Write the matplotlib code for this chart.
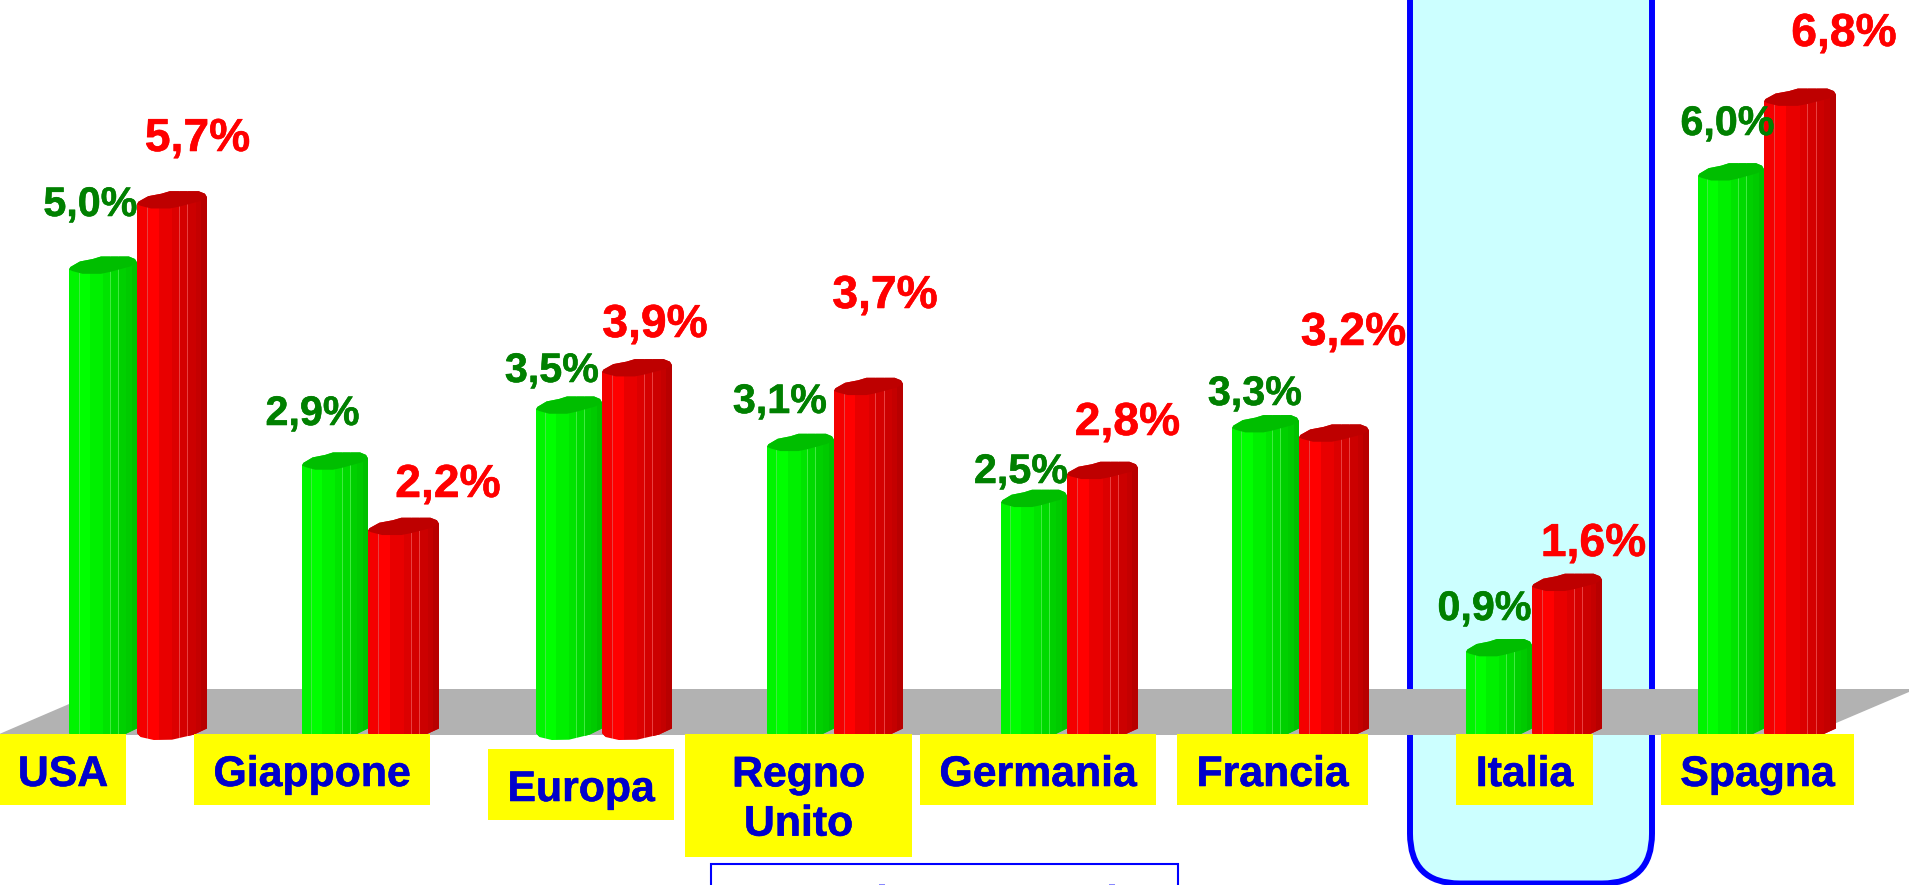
import matplotlib
matplotlib.use("Agg")
import numpy as np
import matplotlib.pyplot as plt
import matplotlib.patheffects as pe
from matplotlib.patches import Polygon, Rectangle, FancyBboxPatch
from matplotlib.transforms import Affine2D

# ---------- data ----------
categories = ["USA", "Giappone", "Europa", "Regno\nUnito", "Germania", "Francia", "Italia", "Spagna"]
green_values = [5.0, 2.9, 3.5, 3.1, 2.5, 3.3, 0.9, 6.0]
red_values = [5.7, 2.2, 3.9, 3.7, 2.8, 3.2, 1.6, 6.8]

# ---------- layout (pixels of the 1909x885 picture) ----------
W, H = 1909, 885
BASE_PX, PPU = 736.0, 93.3
green_x = [(69, 137), (302, 368), (536, 602), (767, 834), (1001, 1067), (1232, 1299), (1466, 1532), (1698, 1764)]
red_x = [(137, 207), (368, 439), (602, 672), (834, 903), (1067, 1138), (1299, 1369), (1532, 1602), (1764, 1836)]
boxes = [(0, 126, 734, 805), (194, 430, 734, 805), (488, 674, 749, 820), (685, 912, 734, 857),
         (920, 1156, 734, 805), (1177, 1368, 734, 805), (1456, 1593, 734, 805), (1661, 1854, 734, 805)]
cat_base = [786, 786, 801, 786, 786, 786, 786, 786]
green_lab = [(90.5, 216), (312.5, 425), (552, 382), (780, 413), (1021, 483), (1255, 405), (1484.5, 620), (1727.5, 135)]
red_lab = [(197.5, 151), (448, 497), (655, 337), (885, 308), (1127.5, 435), (1353.5, 345), (1593.5, 556), (1844, 46)]

RED = dict(cap="#BE0000", line="#E84040", base="#E00000",
           strips=["#F40000", "#FF0000", "#E80000", "#DC0000", "#D40000", "#CC0000", "#C40000", "#B80000"])
GREEN = dict(cap="#00BE00", line="#40EA40", base="#00E000",
             strips=["#00F400", "#00FF00", "#00F000", "#00E400", "#00DA00", "#00D000", "#00CA00", "#00C000"])
FR = [0, .14, .31, .50, .60, .72, .84, .92, 1]
LINES = {.14, .60, .72}

CAP = [(0, 0), (.02, -2.5), (.16, -8), (.35, -10.5), (.47, -13), (.88, -13), (.97, -10.5), (1, -7),
       (.9, -3), (.6, 2.5), (.47, 4.3), (.2, 4.3), (.05, 1.6)]
N_BACK = 8  # first points of CAP form the back edge
BOTTOM = [(0, -2), (.05, 2), (.24, 5), (.5, 4.7), (.81, -.3), (1, -6.5)]

plt.rcParams["font.family"] = ["Liberation Sans", "DejaVu Sans"]
fig = plt.figure(figsize=(W / 100, H / 100), dpi=100, facecolor="white")
ax = fig.add_axes([0, 0, 1, 1])
ax.axis("off")
px = Affine2D().scale(1 / W, -1 / H).translate(0, 1) + fig.transFigure


def hex2rgb(c):
    return [int(c[i:i + 2], 16) / 255 for i in (1, 3, 5)]


def heavy(col):
    return [pe.withStroke(linewidth=0.4, foreground=col)]


# panel behind the floor
ax.add_patch(FancyBboxPatch((1410, -100), 242, 983.5, boxstyle="round,pad=0,rounding_size=50",
                            fc="#CCFFFF", ec="#0000FF", lw=4.3, transform=px, zorder=1, clip_on=False))
# floor
ax.add_patch(Polygon([(-3, 735), (104, 689), (1916, 689), (1808, 735)], closed=True, fc="#B2B2B2", ec="none",
                     transform=px, zorder=2))
# box at the bottom
ax.add_patch(Rectangle((711, 864), 467, 60, fc="white", ec="#0000FF", lw=1.5, transform=px, zorder=2))
for mx in (882, 1112):
    ax.add_patch(Rectangle((mx - 3, 884), 6, 2, fc="#8888FF", ec="none", transform=px, zorder=2))


def cylinder(x0, x1, v, st, z):
    w = x1 - x0
    pts = [(x0 + w * f, (-(d) + BASE_PX - 735) / PPU) for f, d in BOTTOM]
    pts += [(x0 + w * f, v - d / PPU) for f, d in CAP[N_BACK - 1::-1]]
    sil = Polygon(pts, closed=True, transform=ax.transData)
    bar = ax.bar((x0 + x1) / 2, v, width=w, color=st["base"], linewidth=0, zorder=z)[0]
    bar.set_clip_path(sil)
    edges, cols = [], []
    for i in range(len(st["strips"])):
        a, b = x0 + w * FR[i], x0 + w * FR[i + 1]
        if FR[i] in LINES:
            edges.append(a)
            cols.append(hex2rgb(st["line"]))
            a += 1
        edges.append(a)
        cols.append(hex2rgb(st["strips"][i]))
    edges.append(x1)
    ytop = v + 15 / PPU
    ybot = -8 / PPU
    C = np.array([cols])
    m = ax.pcolormesh(edges, [ybot, ytop], C, shading="flat", zorder=z + .1, antialiased=False, linewidth=0)
    m.set_clip_path(sil)
    ax.add_patch(Polygon([(x0 + w * f, v - d / PPU) for f, d in CAP], closed=True, fc=st["cap"], ec="none",
                         zorder=z + .2))


z = 3.0
for i in range(len(categories)):
    cylinder(*green_x[i], green_values[i], GREEN, z)
    cylinder(*red_x[i], red_values[i], RED, z + 1)
    z += 2

for (x0, x1, y0, y1), name, by in zip(boxes, categories, cat_base):
    ax.add_patch(Rectangle((x0, y0), x1 - x0, y1 - y0, fc="#FFFF00", ec="none", transform=px, zorder=40))
    if "\n" in name:
        ax.text((x0 + x1) / 2, 800, name, ha="center", va="center", ma="center", linespacing=1.3,
                fontsize=30.8, fontweight="bold", color="#0000CC", transform=px, zorder=41,
                path_effects=heavy("#0000CC"))
    else:
        ax.text((x0 + x1) / 2, by, name, ha="center", va="baseline", fontsize=30.8, fontweight="bold",
                color="#0000CC", transform=px, zorder=41, path_effects=heavy("#0000CC"))

for v, (lx, ly) in zip(green_values, green_lab):
    ax.text(lx, ly, f"{v:.1f}%".replace(".", ","), ha="center", va="baseline", fontsize=29.7, fontweight="bold",
            color="#008000", transform=px, zorder=50, path_effects=heavy("#008000"))
for v, (lx, ly) in zip(red_values, red_lab):
    ax.text(lx, ly, f"{v:.1f}%".replace(".", ","), ha="center", va="baseline", fontsize=33.3, fontweight="bold",
            color="#FF0000", transform=px, zorder=50, path_effects=heavy("#FF0000"))

ax.set_xlim(0, W)
ax.set_ylim((BASE_PX - H) / PPU, BASE_PX / PPU)
fig.savefig("out.png", dpi=100, facecolor="white")
